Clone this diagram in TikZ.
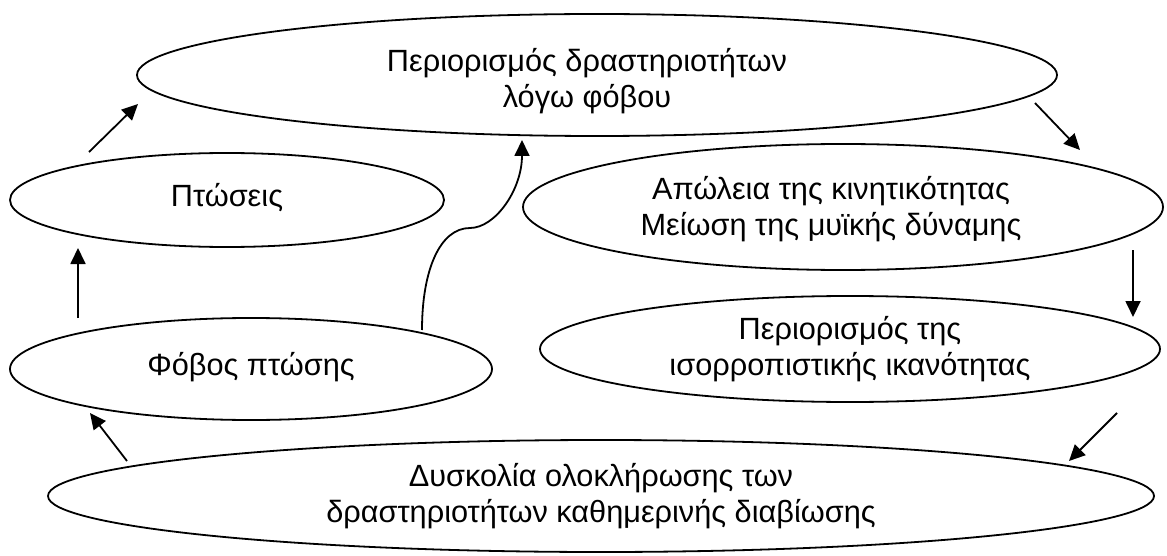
\documentclass[tikz,border=0pt]{standalone}
\usepackage{fontspec}
\setmainfont{Liberation Sans}
\usetikzlibrary{arrows.meta,shapes.geometric}
\begin{document}
\begin{tikzpicture}[x=1pt,y=-1pt,>={Triangle[length=16pt,width=15pt]},line join=bevel,
    state/.style={draw,ellipse,line width=1.8pt,inner sep=0pt},
    lbl/.style={align=center,inner sep=0pt,font=\fontsize{30.7}{36.5}\selectfont},
    edge/.style={->,line width=1.8pt}]
      \useasboundingbox (0,0) rectangle (1167,556);
      %% 
      % Node: a_1
      \node[state,minimum width=920pt,minimum height=122pt] (a_1) at (597,75) {};
      \node[lbl] (t_1) at ([shift={(-10,6)}]a_1.center) {Περιορισμός δραστηριοτήτων\\λόγω φόβου};
      % Node: a_2
      \node[state,minimum width=434pt,minimum height=94pt] (a_2) at (227,200) {};
      \node[lbl] (t_2) at ([shift={(0,-2)}]a_2.center) {Πτώσεις};
      % Node: a_3
      \node[state,minimum width=640pt,minimum height=126pt] (a_3) at (843,207) {};
      \node[lbl] (t_3) at ([shift={(-12,2)}]a_3.center) {Απώλεια της κινητικότητας\\Μείωση της μυϊκής δύναμης};
      % Node: a_4
      \node[state,minimum width=482pt,minimum height=102pt] (a_4) at (251,369) {};
      \node[lbl] (t_4) at ([shift={(0,-2)}]a_4.center) {Φόβος πτώσης};
      % Node: a_5
      \node[state,minimum width=620pt,minimum height=106pt] (a_5) at (850,349) {};
      \node[lbl] (t_5) at (a_5.center) {Περιορισμός της\\ισορροπιστικής ικανότητας};
      % Node: a_6
      \node[state,minimum width=1106pt,minimum height=112pt] (a_6) at (601,496) {};
      \node[lbl] (t_6) at (a_6.center) {Δυσκολία ολοκλήρωσης των\\δραστηριοτήτων καθημερινής διαβίωσης};
      % Edge: a_2 -> a_1
      \draw [edge] ([shift={(-138,-48)}]a_2.center) -- ([shift={(-459,29)}]a_1.center);
      % Edge: a_1 -> a_3
      \draw [edge] ([shift={(438,28)}]a_1.center) -- ([shift={(237,-57)}]a_3.center);
      % Edge: a_3 -> a_5
      \draw [edge] ([shift={(290,43)}]a_3.center) -- ([shift={(283,-32)}]a_5.center);
      % Edge: a_5 -> a_6
      \draw [edge] ([shift={(267,64)}]a_5.center) -- ([shift={(468,-35)}]a_6.center);
      % Edge: a_6 -> a_4
      \draw [edge] ([shift={(-474,-35)}]a_6.center) -- ([shift={(-161,44)}]a_4.center);
      % Edge: a_4 -> a_2
      \draw [edge] ([shift={(-173,-51)}]a_4.center) -- ([shift={(-149,48)}]a_2.center);
      % Edge: a_4 -> a_1
      \draw [edge] ([shift={(171,-39)}]a_4.center) .. controls +(0,-60) and +(-30,0) .. ++(48,-102)
        .. controls +(25,0) and +(0,50) .. ([shift={(-75,65)}]a_1.center);
      % 
\end{tikzpicture}
\end{document}
